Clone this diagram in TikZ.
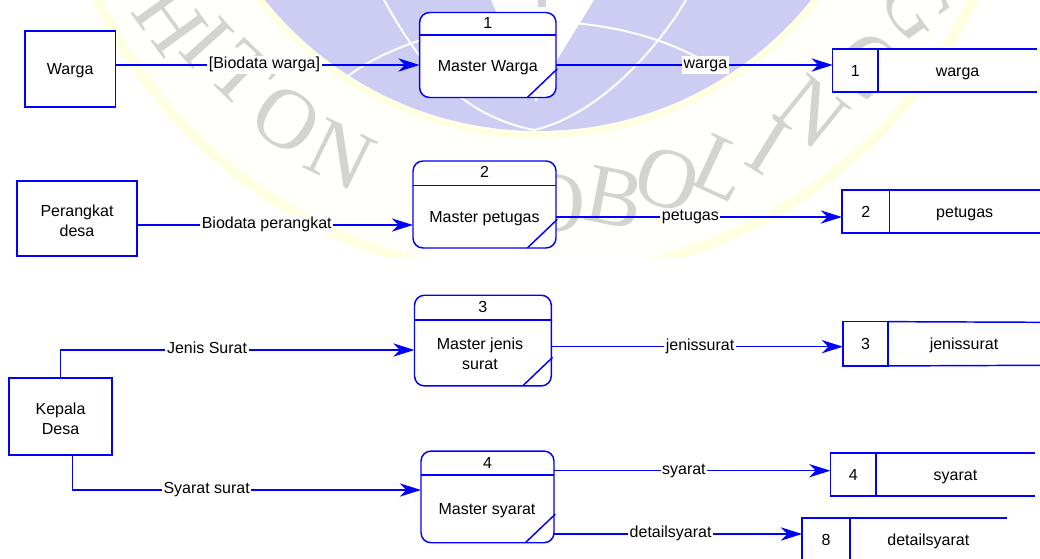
\documentclass[tikz,border=0pt]{standalone}
\usepackage{xcolor}
\usepackage{fontspec}
\setmainfont{Liberation Sans}
\newfontfamily\markfont{Liberation Serif}
\usetikzlibrary{arrows.meta}
\usetikzlibrary{positioning}
\def\unitpx{0.75pt}
\definecolor{linkblue}{RGB}{0,0,255}
\definecolor{markdisk}{RGB}{205,205,243}
\definecolor{markring}{RGB}{255,255,226}
\definecolor{markivory}{RGB}{255,255,252}
\definecolor{markgray}{RGB}{212,212,206}
\tikzset{
	every node/.style={font=\fontsize{12}{15}\selectfont,inner sep=0pt,outer sep=0pt,align=center},
	oneline/.style={text height=8.6pt,text depth=0pt},
	entity/.style={draw=linkblue,line width=1.1pt,fill=white},
	procbox/.style={draw=linkblue,line width=1.1pt,fill=white,rounded corners=7.5pt},
	storecell/.style={oneline,draw=linkblue,line width=1.1pt,fill=white,minimum height=43*\unitpx},
	storename/.style={oneline,fill=white,minimum height=43*\unitpx},
	rule/.style={draw=linkblue,line width=1.1pt},
	flow/.style={draw=linkblue,line width=1.1pt,-{Stealth[length=16pt,width=10pt,inset=5pt]}},
	flowlabel/.style={fill=white,inner sep=1.2pt,text height=8.6pt,text depth=2.6pt},
	markletter/.style={text=markgray,font=\markfont\fontsize{64}{64}\selectfont},
}
\begin{document}
\begin{tikzpicture}[x=\unitpx,y=-\unitpx]
	\useasboundingbox (0,0) rectangle (1040,559);
	\clip (0,0) rectangle (1040,559);
	% watermark
	\begin{scope}
		\clip (0,0) rectangle (1040,258);
		\fill [markivory] (535,-209) circle (490*\unitpx);
		\draw [markring,line width=8pt] (535,-209) circle (485*\unitpx);
		\draw [markring,line width=5pt] (538,-219) circle (354*\unitpx);
	\end{scope}
	\fill [markdisk] (538,-219) circle (350*\unitpx);
	\fill [white] (491,0) -- (594,0) -- (557,60) -- (536,102) -- cycle;
	\fill [markgray!70!markdisk] (538,0) rectangle (546,7);
	\draw [white,line width=1.5pt] (347,77) .. controls (420,20) and (600,-10) .. (724,73);
	\draw [white,line width=1.5pt] (384,0) .. controls (420,65) and (460,115) .. (534,130);
	\draw [white,line width=1.5pt] (686,0) .. controls (660,45) and (600,115) .. (534,130);
	\foreach \x/\y/\r/\c in {170/20/-54/H,207/42/-48/I,243/75/-44/T,287/120/-34/O,340/155/-26/N,
		555/203/-3/O,615/198/-11/B,667/180/-18/O,722/168/-25/L,768/146/-32/I,812/112/-39/N,870/66/-46/G,916/6/-54/G}
		\node [markletter,rotate=\r] at (\x,\y) {\c};

	% external entities
	\node [entity,oneline,minimum width=90.4*\unitpx,minimum height=76*\unitpx] (warga) at (70.2,69) {Warga};
	\node [entity,minimum width=120*\unitpx,minimum height=75*\unitpx] (perangkat) at (77,218.5) {\rule{0pt}{12pt}Perangkat\\desa};
	\node [entity,minimum width=103*\unitpx,minimum height=77*\unitpx] (kepala) at (60.5,416.5) {\rule{0pt}{12pt}Kepala\\Desa};

	% processes
	\node [procbox,minimum width=136.4*\unitpx,minimum height=85*\unitpx] (proc1) at (487.8,55) {};
	\node [procbox,minimum width=143*\unitpx,minimum height=87*\unitpx] (proc2) at (484.5,204.5) {};
	\node [procbox,minimum width=136.8*\unitpx,minimum height=90.7*\unitpx] (proc3) at (482.9,340.6) {};
	\node [procbox,minimum width=133*\unitpx,minimum height=91.7*\unitpx] (proc4) at (487.5,496.9) {};
	\foreach \n/\h in {proc1/35,proc2/185.5,proc3/320,proc4/475} {
		\draw [rule] (\n.west |- 0,\h) -- (\n.east |- 0,\h);
		\draw [rule] ([xshift=-21.5pt]\n.south east) -- ([xshift=1pt,yshift=21.5pt]\n.south east);
	}
	\node [oneline] (num1) at (487.8,23) {1};
	\node [oneline] (num2) at (484.5,172) {2};
	\node [oneline] (num3) at (482.9,307) {3};
	\node [oneline] (num4) at (487.5,462.7) {4};
	\node [oneline] (master1) at (487.8,66) {Master Warga};
	\node [oneline] (master2) at (484.5,217) {Master petugas};
	\node (master3) at (480,353.5) {Master jenis\\surat};
	\node [oneline] (master4) at (487,508.7) {Master syarat};

	% data stores
	\node [storecell,minimum width=45.3*\unitpx] (store1) at (855.4,70.5) {1};
	\node [storename,minimum width=159*\unitpx,right=0pt of store1] (name1) {warga};
	\node [storecell,minimum width=47.5*\unitpx] (store2) at (865.7,211.5) {2};
	\node [storename,minimum width=150.5*\unitpx,right=0pt of store2] (name2) {petugas};
	\node [storecell,minimum width=45*\unitpx,minimum height=44.3*\unitpx] (store3) at (865.5,343.8) {3};
	\node [storename,minimum width=152*\unitpx,right=0pt of store3] (name3) {jenissurat};
	\node [storecell,minimum width=45.6*\unitpx] (store4) at (853.2,474.5) {4};
	\node [storename,minimum width=159*\unitpx,right=0pt of store4] (name4) {syarat};
	\node [storecell,minimum width=47.7*\unitpx] (store8) at (826,539.5) {8};
	\node [storename,minimum width=157*\unitpx,right=0pt of store8] (name8) {detailsyarat};
	\foreach \s/\t in {store1/name1,store2/name2,store3/name3,store4/name4,store8/name8} {
		\draw [rule] (\s.north east) -- (\t.north east);
		\draw [rule] (\s.south east) -- (\t.south east);
		\draw [rule] (\s.north east) -- (\s.south east);
	}

	% data flows
	\draw [flow] (warga.east |- 0,65) -- node [flowlabel,pos=0.49] {[Biodata warga]} (proc1.west |- 0,65);
	\draw [flow] (perangkat.east |- 0,225) -- node [flowlabel,pos=0.47] {Biodata perangkat} (proc2.west |- 0,225);
	\draw [flow] (kepala.north) |- node [flowlabel,pos=0.707] {Jenis Surat} (proc3.west |- 0,350);
	\draw [flow] ([xshift=9pt]kepala.south) |- node [flowlabel,pos=0.6925] {Syarat surat} (proc4.west |- 0,490);
	\draw [flow] (proc1.east |- 0,65) -- node [flowlabel,pos=0.54] {warga} (store1.west |- 0,65);
	\draw [flow] (proc2.east |- 0,217) -- node [flowlabel,pos=0.47] {petugas} (store2.west |- 0,217);
	\draw [flow] (proc3.east |- 0,346.7) -- node [flowlabel,pos=0.51] {jenissurat} (store3.west |- 0,346.7);
	\draw [flow] (proc4.east |- 0,470.7) -- node [flowlabel,pos=0.47] {syarat} (store4.west |- 0,470.7);
	\draw [flow] (proc4.east |- 0,534) -- node [flowlabel,pos=0.47] {detailsyarat} (store8.west |- 0,534);
\end{tikzpicture}
\end{document}
